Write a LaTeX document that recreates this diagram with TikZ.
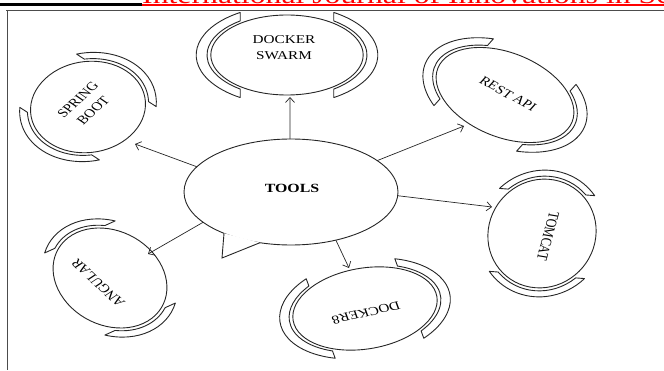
\documentclass[tikz,border=0pt]{standalone}
\usepackage{graphicx}
\usepackage{fontspec}
\setmainfont{Liberation Serif}
\usetikzlibrary{shapes.geometric,arrows.meta}
\newcommand\satel[8]{%
\begin{scope}[shift={(#1,#2)},xscale=1.27,rotate=#3]
\node[satell, minimum width=#4*2pt, minimum height=#5*2pt] (#8) at (0,0) {};
\pgfmathsetmacro\ai{#4+3}\pgfmathsetmacro\bi{#5+2}
\pgfmathsetmacro\ao{#4+3+#7}\pgfmathsetmacro\bo{#5+2+#7*0.9}
\pgfmathsetmacro\pho{#6}
\pgfmathsetmacro\phin{acos(\ao*cos(\pho)/\ai)}
\pgfmathsetmacro\lao{180-\pho}\pgfmathsetmacro\lbo{180+\pho}
\pgfmathsetmacro\lai{180-\phin}\pgfmathsetmacro\lbi{180+\phin}
\draw[brk] (\pho:\ao\space and \bo) arc[start angle=\pho,end angle=-\pho,x radius=\ao,y radius=\bo]
  -- (-\phin:\ai\space and \bi) arc[start angle=-\phin,end angle=\phin,x radius=\ai,y radius=\bi] -- cycle;
\draw[brk] (\lao:\ao\space and \bo) arc[start angle=\lao,end angle=\lbo,x radius=\ao,y radius=\bo]
  -- (\lbi:\ai\space and \bi) arc[start angle=\lbi,end angle=\lai,x radius=\ai,y radius=\bi] -- cycle;
\end{scope}}
\newcommand\lab[5]{%
\begin{scope}[shift={(#1,#2)},xscale=1.27,rotate=#3]
\node[lbl] (#5) at (0,0) {#4};
\end{scope}}
\begin{document}
\begin{tikzpicture}[x=1pt,y=1pt,
  ln/.style={line width=0.9pt, draw=black!85},
  satell/.style={ellipse, ln, inner sep=0pt, outer sep=0pt, transform shape},
  brk/.style={ln, line join=round},
  lbl/.style={transform shape, inner sep=0pt, align=center, font=\fontsize{12}{16}\selectfont},
  arr/.style={line width=0.7pt, draw=black!85, -{Straight Barb[length=5pt,width=9pt]}},
  frame/.style={draw=black!70, line width=1pt}]
\useasboundingbox (0,0) rectangle (664,370);
\clip (0,0) rectangle (664,370);
% header
\draw[line width=2.4pt] (0,365.5) -- (142,365.5);
\node[anchor=base west, inner sep=0pt, text=red, font=\fontsize{25}{25}\selectfont] (hdr) at (142,366)
  {\scalebox{1.27}[1]{International Journal of Innovations in Science}};
\draw[red, line width=1.5pt] (142,365) -- (664,365);
% frame
\draw[frame] (6,359.3) -- (664,359.3);
\draw[frame] (7,359.8) -- (7,0);
% central bubble
\node[ellipse, ln, inner sep=0pt, outer sep=0pt, minimum width=214pt, minimum height=106pt] (tools) at (291,178) {};
\coordinate (tailA) at (224,136.7);
\coordinate (tailB) at (260,127.3);
\coordinate (tailtip) at (222,112);
\fill[white] (tailA) -- (tailtip) -- (tailB) -- cycle;
\draw[ln, line join=miter] (tailA) -- (tailtip) -- (tailB);
\lab{292}{181.5}{0}{\fontsize{12.5}{15}\selectfont\bfseries TOOLS}{toolstxt}
% satellites
\satel{287}{315}{0}{60}{40}{59}{8.5}{swarm}
\satel{88}{263}{50}{47}{44}{52}{6.5}{spring}
\satel{505}{275}{-35}{60}{40}{56}{8}{rest}
\satel{542}{136.5}{84.5}{54.5}{42.5}{49}{6}{tomcat}
\satel{365}{61.5}{16}{58}{40}{58}{7.5}{dockers}
\satel{110}{92}{120}{52.4}{42}{40}{6.5}{angular}
% labels
\lab{284}{322}{0}{DOCKER\\SWARM}{swarmtxt}
\lab{85.5}{265}{49}{SPRING\\BOOT}{springtxt}
\lab{508}{276}{-35}{REST API}{resttxt}
\lab{548}{134}{-102}{TOMCAT}{tomcattxt}
\lab{366}{57}{196}{DOCKER8}{dockerstxt}
\lab{98}{87}{130}{ANGULAR}{angulartxt}
% arrows
\coordinate (tSW) at (290,273);
\coordinate (tSB) at (135,226);
\coordinate (tRE) at (464,244);
\coordinate (tTC) at (492,163);
\coordinate (tDK) at (349,102);
\coordinate (tAN) at (148,116);
\draw[arr] (tools.91) -- (tSW);
\draw[arr] (tools.165) -- (tSB);
\draw[arr] (tools.20) -- (tRE);
\draw[arr] (tools.-2) -- (tTC);
\draw[arr] (tools.-47) -- (tDK);
\draw[arr] (tools.199) -- (tAN);
\end{tikzpicture}
\end{document}
